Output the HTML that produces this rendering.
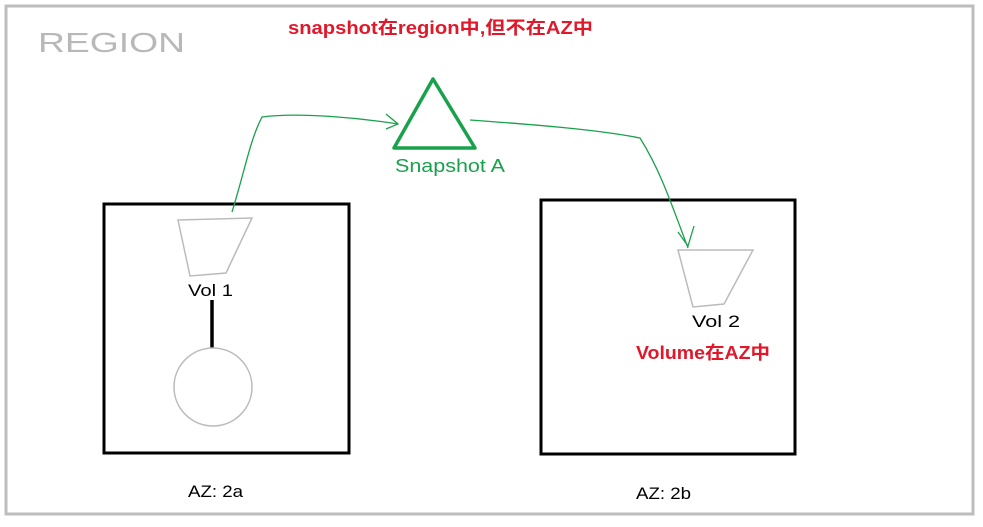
<!DOCTYPE html>
<html><head><meta charset="utf-8"><style>
body{margin:0;background:#fff;width:983px;height:522px;overflow:hidden}
svg text{font-family:"Liberation Sans","Noto Sans CJK SC",sans-serif}
</style></head><body>
<svg width="983" height="522">
<rect x="6" y="6" width="967" height="508" fill="none" stroke="#bdbdbd" stroke-width="3"/>
<text x="38" y="52" font-size="28" fill="#b8b8b8" textLength="147" lengthAdjust="spacingAndGlyphs">REGION</text>
<text x="288" y="34" font-size="18" font-weight="bold" fill="#e0182a" textLength="305" lengthAdjust="spacingAndGlyphs">snapshot在region中,但不在AZ中</text>
<rect x="104" y="204" width="245" height="249" fill="none" stroke="#000" stroke-width="3"/>
<rect x="541" y="200" width="254" height="254" fill="none" stroke="#000" stroke-width="3"/>
<polygon points="433,79 394,148 475,148" fill="none" stroke="#1aa14c" stroke-width="3.5" stroke-linejoin="round"/>
<text x="395" y="172" font-size="18" fill="#1aa14c" textLength="110" lengthAdjust="spacingAndGlyphs">Snapshot A</text>
<path d="M232,212 C245,170 250,140 262,117 C300,112 360,118 398,124 M386,114 L398,124 L386,129" fill="none" stroke="#1aa14c" stroke-width="1.3"/>
<path d="M470,120 C540,125 600,130 640,138 C660,170 670,200 688,248 M678,232 L688,246 L694,226" fill="none" stroke="#1aa14c" stroke-width="1.3"/>
<polygon points="178,220 252,218 226,273 190,276" fill="none" stroke="#bbb" stroke-width="1.5"/>
<text x="188" y="296" font-size="17" fill="#000" textLength="45" lengthAdjust="spacingAndGlyphs">Vol 1</text>
<line x1="212" y1="300" x2="212" y2="348" stroke="#000" stroke-width="3.5"/>
<circle cx="213" cy="387" r="39" fill="none" stroke="#bbb" stroke-width="1.5"/>
<polygon points="678,250 753,250 724,304 693,307" fill="none" stroke="#bbb" stroke-width="1.5"/>
<text x="692" y="327" font-size="17" fill="#000" textLength="48" lengthAdjust="spacingAndGlyphs">Vol 2</text>
<text x="636" y="359" font-size="18" font-weight="bold" fill="#e0182a" textLength="134" lengthAdjust="spacingAndGlyphs">Volume在AZ中</text>
<text x="188" y="497" font-size="17" fill="#000" textLength="55" lengthAdjust="spacingAndGlyphs">AZ: 2a</text>
<text x="636" y="499" font-size="17" fill="#000" textLength="55" lengthAdjust="spacingAndGlyphs">AZ: 2b</text>
</svg>
</body></html>
